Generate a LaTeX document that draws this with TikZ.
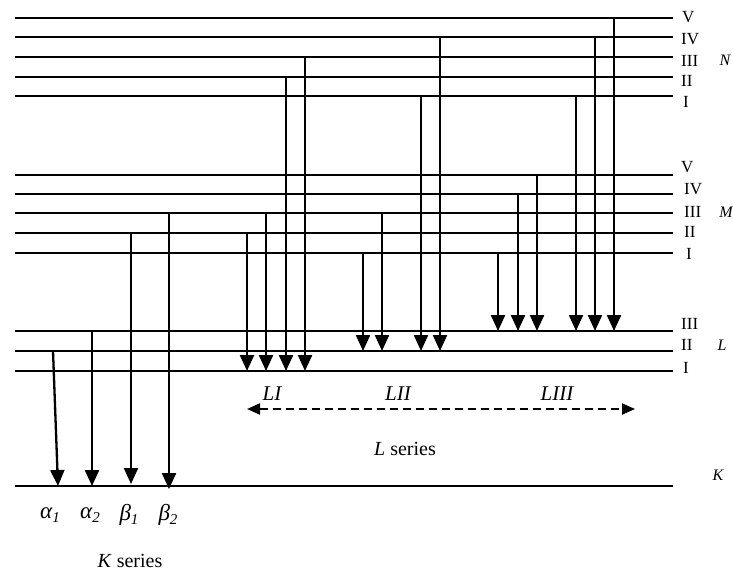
\documentclass[tikz,border=0pt]{standalone}
\usepackage{fontspec}
\setmainfont{Liberation Serif}
\usetikzlibrary{arrows.meta}
\newcommand{\gsub}[2]{\textit{#1}\raisebox{-0.35ex}{\fontsize{15}{15}\selectfont\itshape #2}}
\begin{document}
\begin{tikzpicture}[x=1pt,y=-1pt,
  level/.style={line width=1.9pt},
  trans/.style={line width=2.3pt,-{Triangle[width=14pt,length=16pt]},shorten >=0pt},
  lab/.style={anchor=west,inner sep=0pt,font=\fontsize{17}{17}\selectfont},
  shell/.style={inner sep=0pt,font=\fontsize{16}{16}\selectfont\itshape},
  big/.style={inner sep=0pt,font=\fontsize{20}{20}\selectfont},
  greek/.style={inner sep=0pt,font=\fontsize{23}{23}\selectfont},
  bigit/.style={inner sep=0pt,font=\fontsize{21}{21}\selectfont\itshape}]
\useasboundingbox (0,0) rectangle (733,578);
% level coordinates (left and right ends)
\foreach \n/\y in {N5/18,N4/37,N3/57,N2/77,N1/96,M5/175,M4/194,M3/213,M2/233,M1/253,L3/331,L2/351,L1/371,K/486}{
  \coordinate (\n) at (15,\y);
  \coordinate (\n e) at (673,\y);
  \draw[level] (\n) -- (\n e);
}
% level labels
\node[lab] (tN5) at (682,17) {V};
\node[lab] (tN4) at (681,39) {IV};
\node[lab] (tN3) at (681,61) {III};
\node[lab] (tN2) at (681,81) {II};
\node[lab] (tN1) at (683,102) {I};
\node[lab] (tM5) at (681,167) {V};
\node[lab] (tM4) at (684,189) {IV};
\node[lab] (tM3) at (684,212) {III};
\node[lab] (tM2) at (684,232) {II};
\node[lab] (tM1) at (686,254) {I};
\node[lab] (tL3) at (681,324) {III};
\node[lab] (tL2) at (681,345) {II};
\node[lab] (tL1) at (683,368) {I};
\node[shell] (sN) at (725,60) {N};
\node[shell] (sM) at (726,212) {M};
\node[shell] (sL) at (722,345) {L};
\node[shell] (sK) at (718,475) {K};
% K series
\draw[trans] (53,0 |- L2) -- (58,0 |- K);
\draw[trans] (92,0 |- L3) -- (92,0 |- K);
\draw[trans] (131,0 |- M2) -- (131,484);
\draw[trans] (169,0 |- M3) -- (169,489);
\node[greek] (a1) at (50,515) {\gsub{α}{1}};
\node[greek] (a2) at (90,515) {\gsub{α}{2}};
\node[greek] (b1) at (129,515) {\gsub{β}{1}};
\node[greek] (b2) at (168,515) {\gsub{β}{2}};
\node[big] (ks) at (130,561) {\textit{K} series};
% L I
\draw[trans] (247,0 |- M2) -- (247,0 |- L1);
\draw[trans] (266,0 |- M3) -- (266,0 |- L1);
\draw[trans] (286,0 |- N2) -- (286,0 |- L1);
\draw[trans] (305,0 |- N3) -- (305,0 |- L1);
% L II
\draw[trans] (363,0 |- M1) -- (363,0 |- L2);
\draw[trans] (382,0 |- M3) -- (382,0 |- L2);
\draw[trans] (421,0 |- N1) -- (421,0 |- L2);
\draw[trans] (440,0 |- N4) -- (440,0 |- L2);
% L III
\draw[trans] (498,0 |- M1) -- (498,0 |- L3);
\draw[trans] (518,0 |- M4) -- (518,0 |- L3);
\draw[trans] (537,0 |- M5) -- (537,0 |- L3);
\draw[trans] (576,0 |- N1) -- (576,0 |- L3);
\draw[trans] (595,0 |- N4) -- (595,0 |- L3);
\draw[trans] (614,0 |- N5) -- (614,0 |- L3);
% L series
\node[bigit] (lI) at (272,394) {LI};
\node[bigit] (lII) at (398,394) {LII};
\node[bigit] (lIII) at (557,394) {LIII};
\coordinate (dl) at (247,409);
\coordinate (dr) at (635,409);
\draw[line width=2pt,dash pattern=on 8pt off 5pt,{Triangle[width=11pt,length=13pt]}-{Triangle[width=11pt,length=13pt]}] (dl) -- (dr);
\node[big] (ls) at (405,449) {\textit{L} series};
\end{tikzpicture}
\end{document}
